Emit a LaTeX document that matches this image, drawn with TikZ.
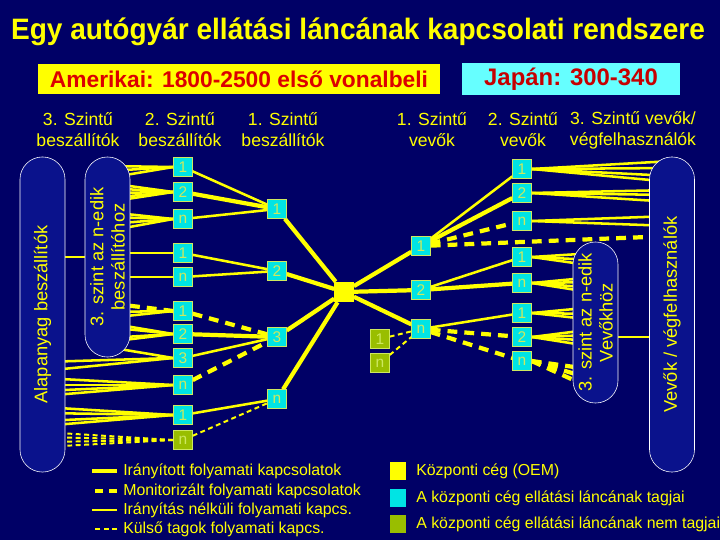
\documentclass[tikz,border=0pt]{standalone}
\usepackage{fontspec}
\setmainfont{Liberation Sans}
\usetikzlibrary{calc}
\definecolor{hatterkek}{RGB}{0,0,102}
\definecolor{ellkek}{RGB}{10,18,140}
\definecolor{sarga}{RGB}{255,255,0}
\definecolor{cian}{RGB}{0,228,228}
\definecolor{vilagcian}{RGB}{102,255,255}
\definecolor{oliva}{RGB}{153,190,0}
\definecolor{szamszin}{RGB}{205,232,95}
\definecolor{piros}{RGB}{220,0,0}
\pgfdeclarelayer{hatter}
\pgfdeclarelayer{vonal}
\pgfsetlayers{hatter,vonal,main}

\begin{document}
\begin{tikzpicture}[%
        x=0.025cm, y=-0.025cm,
        tag/.style={ draw=szamszin, thin, fill=cian, text=szamszin, minimum width=0.47cm, minimum height=0.47cm, inner sep=0pt, font=\fontsize{11}{12}\selectfont },%
        kulsotag/.style={ tag, fill=oliva },%
        kapszula/.style={ rotate=90, draw=white, thin, fill=ellkek, rounded corners=0.56cm, minimum height=1.125cm, text=sarga, align=center, inner sep=0pt, font=\fontsize{13}{15}\selectfont },%
        fejlec/.style={ text=sarga, align=center, font=\fontsize{12.5}{15}\selectfont },%
        jel/.style={ text=sarga, anchor=west, inner sep=0pt, font=\fontsize{11.3}{13}\selectfont },%
        jelzo/.style={ minimum width=0.4cm, minimum height=0.45cm, inner sep=0pt },%
        irany/.style={ sarga, line width=3pt },%
        monit/.style={ sarga, line width=3pt, dash pattern=on 7pt off 5pt },%
        nelkul/.style={ sarga, line width=1.8pt },%
        kulso/.style={ sarga, line width=1.4pt, dash pattern=on 3.5pt off 2.5pt }%
      ]
      \begin{pgfonlayer}{hatter}
        \fill[hatterkek] (0,0) rectangle (720,540);
      \end{pgfonlayer}
      \useasboundingbox (0,0) rectangle (720,540);

      \node (cim) at (358,32) [text=sarga, font=\bfseries\fontsize{21}{25}\selectfont]{\scalebox{0.95}[1]{Egy autógyár ellátási láncának kapcsolati rendszere}};
      \node (amer) at (239,79) [fill=sarga, text=piros, minimum width=10.05cm, minimum height=0.75cm, font=\bfseries\fontsize{16.2}{20}\selectfont]{Amerikai: 1800-2500 első vonalbeli};
      \node (japan) at (571,79) [fill=vilagcian, text=piros!90!black, minimum width=5.425cm, minimum height=0.75cm, font=\bfseries\fontsize{17}{20}\selectfont]{Japán: 300-340};

      \node (h1) at ( 78,130) [fejlec]{3. Szintű\\beszállítók};
      \node (h2) at (180,130) [fejlec]{2. Szintű\\beszállítók};
      \node (h3) at (283,130) [fejlec]{1. Szintű\\beszállítók};
      \node (h4) at (432,130) [fejlec]{1. Szintű\\vevők};
      \node (h5) at (523,130) [fejlec]{2. Szintű\\vevők};
      \node (h6) at (633,130) [fejlec]{3. Szintű vevők/\\végfelhasználók};

      \node (alap)   at ( 42.5,314.5) [kapszula, minimum width=7.875cm]{Alapanyag beszállítók};
      \node (szint3) at (107.5,257)   [kapszula, minimum width=5cm]{3. szint az n-edik\\beszállítóhoz};
      \node (vevo3)  at (595.5,322.5) [kapszula, minimum width=4.025cm]{3. szint az n-edik\\Vevőkhöz};
      \node (vegf)   at (672,314.5)   [kapszula, minimum width=7.875cm]{Vevők / végfelhasználók};

      \node (a1) at (183,167) [tag]{1};
      \node (a2) at (183,192) [tag]{2};
      \node (an) at (183,219) [tag]{n};
      \node (b1) at (183,253) [tag]{1};
      \node (bn) at (183,277) [tag]{n};
      \node (c1) at (183,311) [tag]{1};
      \node (c2) at (183,334) [tag]{2};
      \node (c3) at (183,358) [tag]{3};
      \node (cn) at (183,385) [tag]{n};
      \node (d1) at (183,415) [tag]{1};
      \node (dn) at (183,440) [kulsotag]{n};

      \node (m1) at (277,209) [tag]{1};
      \node (m2) at (277,271) [tag]{2};
      \node (m3) at (277,337) [tag]{3};
      \node (mn) at (277,399) [tag]{n};

      \node (oem) at (344,292) [fill=sarga, minimum width=0.48cm, minimum height=0.5cm, inner sep=0pt]{};

      \node (v1) at (421,246) [tag]{1};
      \node (v2) at (421,290) [tag]{2};
      \node (vn) at (421,329) [tag]{n};
      \node (g1) at (380,339) [kulsotag]{1};
      \node (gn) at (380,363) [kulsotag]{n};

      \node (w1) at (522,169) [tag]{1};
      \node (w2) at (522,193) [tag]{2};
      \node (wn) at (522,221) [tag]{n};
      \node (x1) at (522,257) [tag]{1};
      \node (xn) at (522,283) [tag]{n};
      \node (y1) at (522,313) [tag]{1};
      \node (y2) at (522,337) [tag]{2};
      \node (yn) at (522,361) [tag]{n};

      \begin{pgfonlayer}{vonal}
        \draw[nelkul] (alap.center |- szint3.center) -- (szint3.center);
        \draw[nelkul] (vevo3.center |- y2) -- (vegf.center |- y2);
        \foreach \b/\d in {a1/-1,a1/4,a1/11,a2/-9,a2/-4,a2/1,a2/6,a2/10,an/-7,an/-2,an/5,an/12,b1/0,bn/0,c1/1,c1/7,c2/-11,c2/-7,c2/4,c2/8,c3/-11}
          \draw[nelkul] (\b.west) -- ($(szint3.center |- \b)+(0,\d)$);
        \draw[monit] (c1.west) -- ($(szint3.center |- c1)+(0,-8)$);
        \foreach \b/\d in {c3/4,c3/13,cn/-7,cn/0,cn/6,cn/11,d1/-8,d1/-2,d1/6,d1/11}
          \draw[nelkul] (\b.west) -- ($(alap.center |- \b)+(0,\d)$);
        \foreach \d in {-8,-3,2,7}
          \draw[kulso] (dn.west) -- ($(alap.center |- dn)+(0,\d)$);

        \draw[nelkul] (a1) -- (m1);
        \draw[irany] (a2) -- (m1);
        \draw[nelkul] (an) -- (m1);
        \draw[nelkul] (b1) -- (m2);
        \draw[nelkul] (bn) -- (m2);
        \draw[monit] (c1) -- (m3);
        \draw[irany] (c2) -- (m3);
        \draw[nelkul] (c3) -- (m3);
        \draw[monit] (cn) -- (m3);
        \draw[nelkul] (d1) -- (mn);
        \draw[kulso] (dn) -- (mn);
        \foreach \m in {m1,m2,m3,mn}
          \draw[irany] (\m) -- (oem);
        \foreach \v in {v1,v2,vn}
          \draw[irany] (oem) -- (\v);
        \draw[kulso] (g1) -- (vn);
        \draw[kulso] (gn) -- (vn);

        \draw[nelkul] (v1) -- (w1);
        \draw[irany] (v1) -- (w2);
        \draw[monit] (v1) -- (wn);
        \draw[monit] (v1) -- ($(vegf.center |- v1)+(0,-10)$);
        \draw[nelkul] (v2) -- (x1);
        \draw[irany] (v2) -- (xn);
        \draw[nelkul] (vn) -- (y1);
        \draw[monit] (vn) -- (y2);
        \draw[monit] (vn) -- (yn);

        \foreach \b/\d in {w1/-8,w1/-1,w1/7,w1/13,w2/-3,w2/2,w2/9,wn/-5,wn/5}
          \draw[nelkul] (\b.east) -- ($(vegf.center |- \b)+(0,\d)$);
        \foreach \b/\d in {x1/-4,x1/3,x1/9,xn/-6,xn/-1,xn/5,xn/10,y1/-6,y1/1,y1/7,y2/-8,y2/-2,y2/4,y2/10}
          \draw[nelkul] (\b.east) -- ($(vevo3.center |- \b)+(0,\d)$);
        \foreach \d in {9,19,29}
          \draw[monit] (yn.east) -- ($(vevo3.center |- yn)+(0,\d)$);
      \end{pgfonlayer}

      \node (l1) at (123,471) [jel]{Irányított folyamati kapcsolatok};
      \node (l2) at (123,491) [jel]{Monitorizált folyamati kapcsolatok};
      \node (l3) at (123,510) [jel]{Irányítás nélküli folyamati kapcs.};
      \node (l4) at (123,529) [jel]{Külső tagok folyamati kapcs.};
      \draw[irany] (l1.west) ++(-6,0) -- ++(-25,0);
      \draw[monit, dash pattern=on 6pt off 4pt] (l2.west) ++(-6,0) -- ++(-25,0);
      \draw[nelkul] (l3.west) ++(-6,0) -- ++(-25,0);
      \draw[kulso] (l4.west) ++(-6,0) -- ++(-25,0);

      \node (k1) at (398,471) [jelzo, fill=sarga]{};
      \node (k2) at (398,497.5) [jelzo, fill=cian]{};
      \node (k3) at (398,524) [jelzo, fill=oliva]{};
      \node (t1) at (416,471) [jel]{Központi cég (OEM)};
      \node (t2) at (416,498) [jel]{A központi cég ellátási láncának tagjai};
      \node (t3) at (416,524) [jel]{A központi cég ellátási láncának nem tagjai};
    \end{tikzpicture}
\end{document}
